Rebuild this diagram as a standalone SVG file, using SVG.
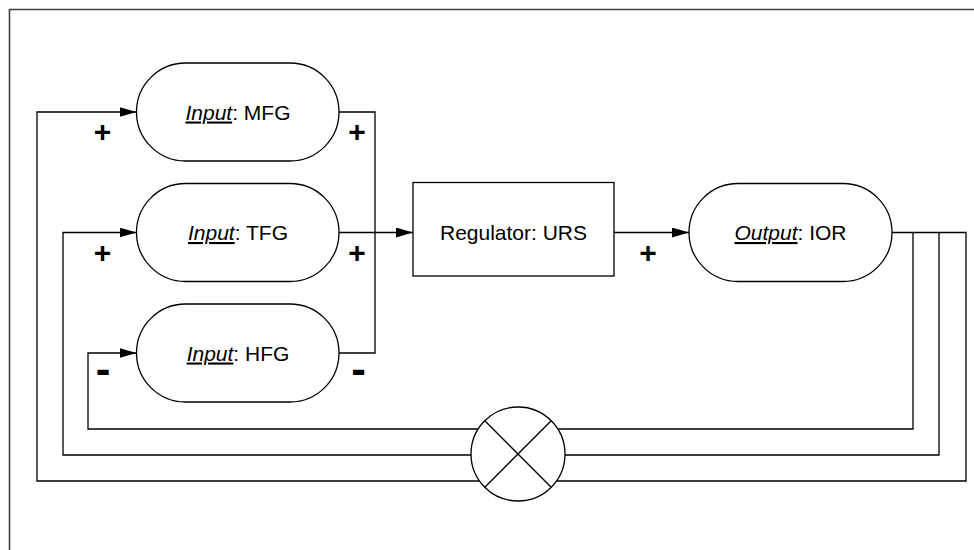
<svg xmlns="http://www.w3.org/2000/svg" width="974" height="550" viewBox="0 0 974 550">
<defs>
<marker id="arr" markerUnits="userSpaceOnUse" markerWidth="18" markerHeight="12" refX="17" refY="5" orient="auto">
<path d="M0,0 L17,5 L0,10 Z" fill="#000"/>
</marker>
<style>
.shape{fill:#fff;stroke:#000;stroke-width:1.3}
.ln{fill:none;stroke:#000;stroke-width:1.3}
.lbl{font-family:"Liberation Sans",Arial,sans-serif;font-size:21px;fill:#000;text-anchor:middle}
.it{font-style:italic;text-decoration:underline}
.plus{font-family:"Liberation Sans",Arial,sans-serif;font-size:30px;font-weight:bold;fill:#000;text-anchor:middle}
.minus{font-family:"Liberation Sans",Arial,sans-serif;font-size:44px;font-weight:bold;fill:#000;text-anchor:middle}
</style>
</defs>
<rect width="974" height="550" fill="#fff"/>
<path d="M9.5,560 V9.5 H990" fill="none" stroke="#404040" stroke-width="1.6"/>

<g id="connectors">
<path class="ln" d="M892,232.5 H966 V481 H37 V112 H136.5" marker-end="url(#arr)"/>
<path class="ln" d="M939,232.5 V455 H63 V232.5 H136.5" marker-end="url(#arr)"/>
<path class="ln" d="M913,232.5 V429 H88 V353 H136.5" marker-end="url(#arr)"/>
<path class="ln" d="M339,112 H375 V353 H339"/>
<path class="ln" d="M339,232.5 H413" marker-end="url(#arr)"/>
<path class="ln" d="M614,232.5 H689" marker-end="url(#arr)"/>
</g>

<g id="mfg">
<rect class="shape" x="136.5" y="63" width="202.5" height="98" rx="49" ry="49"/>
<text class="lbl" x="238" y="119.5"><tspan class="it">Input</tspan>: MFG</text>
</g>
<g id="tfg">
<rect class="shape" x="136.5" y="183.5" width="202.5" height="98" rx="49" ry="49"/>
<text class="lbl" x="238" y="240"><tspan class="it">Input</tspan>: TFG</text>
</g>
<g id="hfg">
<rect class="shape" x="136.5" y="304" width="202.5" height="98" rx="49" ry="49"/>
<text class="lbl" x="238" y="360.5"><tspan class="it">Input</tspan>: HFG</text>
</g>
<g id="regulator">
<rect class="shape" x="413" y="182.5" width="201" height="93.5"/>
<text class="lbl" x="513.5" y="240">Regulator: URS</text>
</g>
<g id="output">
<rect class="shape" x="689" y="183.5" width="203" height="98" rx="49" ry="49"/>
<text class="lbl" x="790.5" y="240"><tspan class="it">Output</tspan>: IOR</text>
</g>
<g id="comparator">
<circle class="shape" cx="518" cy="454" r="47"/>
<path class="ln" d="M484.8,420.8 L551.2,487.2 M551.2,420.8 L484.8,487.2" stroke-width="1.1"/>
</g>

<g id="signs">
<text class="plus" x="102.5" y="141.5">+</text>
<text class="plus" x="357" y="141.5">+</text>
<text class="plus" x="102.5" y="263">+</text>
<text class="plus" x="357" y="263">+</text>
<text class="plus" x="648" y="263">+</text>
<text class="minus" x="103" y="383.5">-</text>
<text class="minus" x="358.5" y="383.5">-</text>
</g>
</svg>
